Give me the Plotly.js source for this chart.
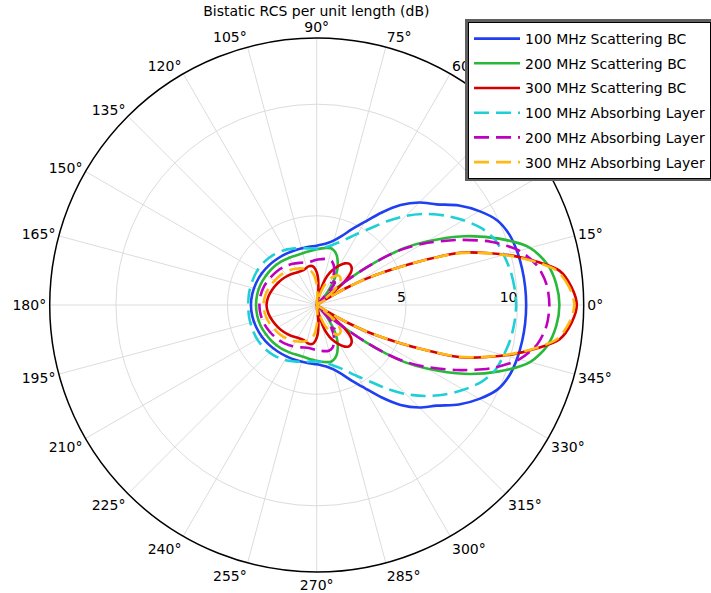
<!DOCTYPE html>
<html>
<head>
<meta charset="utf-8">
<script src="https://cdn.plot.ly/plotly-3.0.1.min.js"></script>
<style>html,body{margin:0;padding:0;background:#fff;}#chart{width:711px;height:593px;}</style>
</head>
<body>
<div id="chart"></div>
<script>
// Half-plane readings (0..180 deg); the pattern is symmetric about 0 deg.
const blueTheta = [0, 5, 10, 15, 20, 25, 30, 35, 40, 45, 50, 55, 60, 65, 70, 75, 80, 85, 90, 100, 110, 120, 130, 140, 150, 160, 170, 180];
const blueR     = [10.39, 10.38, 10.35, 10.3, 10.2, 9.95, 9.42, 8.78, 8.02, 7.5, 6.85, 6.05, 5.3, 4.75, 4.3, 4.0, 3.82, 3.72, 3.66, 3.63, 3.64, 3.67, 3.72, 3.78, 3.84, 3.89, 3.93, 3.95];

const greenTheta = [0, 5, 10, 15, 20, 25, 30, 33, 35, 37, 39, 41, 43, 45, 48, 52, 56, 60, 64, 68, 72, 76, 80, 85, 90, 100, 110, 120, 130, 140, 150, 160, 170, 180];
const greenR     = [11.88, 11.78, 11.5, 10.9, 9.7, 8.3, 6.7, 5.7, 4.8, 3.8, 2.8, 2.0, 1.3, 1.0, 1.5, 1.96, 2.45, 2.85, 3.15, 3.4, 3.55, 3.62, 3.6, 3.55, 3.5, 3.42, 3.4, 3.45, 3.52, 3.58, 3.63, 3.68, 3.71, 3.72];

const redTheta = [0, 4, 8, 11, 14, 17, 20, 23, 26, 28, 30, 32, 34, 37, 40, 44, 48, 52, 56, 60, 64, 68, 72, 76, 80, 84, 88, 92, 96, 102, 110, 120, 130, 140, 150, 160, 170, 180];
const redR     = [12.66, 12.45, 12.0, 11.1, 10.1, 8.98, 7.85, 6.0, 4.4, 3.5, 2.5, 1.5, 1.0, 1.6, 2.6, 3.15, 3.32, 3.35, 3.25, 3.05, 2.82, 2.55, 2.2, 1.6, 1.0, 1.7, 2.3, 2.6, 2.75, 2.77, 2.68, 2.7, 2.8, 2.9, 3.0, 3.1, 3.2, 3.25];

const cyanTheta = [0, 5, 10, 15, 20, 25, 30, 35, 40, 45, 50, 55, 60, 65, 70, 75, 80, 85, 90, 100, 110, 120, 130, 140, 150, 160, 170, 180];
const cyanR     = [9.94, 9.9, 9.82, 9.68, 9.52, 9.15, 8.6, 8.0, 7.35, 6.65, 5.9, 5.2, 4.7, 4.3, 4.0, 3.8, 3.65, 3.57, 3.53, 3.58, 3.7, 3.85, 3.96, 4.04, 4.08, 4.08, 4.08, 4.07];

const magentaTheta = [0, 5, 10, 15, 20, 25, 30, 33, 35, 37, 39, 41, 43, 45, 48, 51, 54, 57, 60, 65, 70, 75, 80, 85, 90, 100, 110, 120, 130, 140, 150, 160, 170, 180];
const magentaR     = [11.43, 11.35, 11.05, 10.4, 9.3, 7.9, 6.5, 5.6, 4.8, 3.8, 2.8, 2.0, 1.3, 1.0, 1.8, 2.3, 2.3, 2.2, 2.5, 2.85, 3.05, 3.12, 3.1, 3.06, 3.03, 2.96, 3.02, 3.14, 3.25, 3.34, 3.42, 3.5, 3.55, 3.57];

const orangeTheta = [0, 4, 8, 11, 14, 17, 20, 23, 26, 28, 30, 32, 34, 37, 40, 44, 48, 52, 56, 60, 64, 68, 72, 76, 80, 84, 88, 92, 96, 102, 110, 120, 130, 140, 150, 160, 170, 180];
const orangeR     = [12.55, 12.35, 11.9, 11.05, 10.05, 8.95, 7.8, 6.0, 4.4, 3.5, 2.5, 1.5, 1.0, 1.4, 2.0, 2.4, 2.6, 2.65, 2.6, 2.45, 2.25, 2.0, 1.6, 1.2, 1.0, 1.2, 1.7, 2.1, 2.4, 2.62, 2.74, 2.88, 3.0, 3.1, 3.18, 3.28, 3.35, 3.39];

const seriesNames = ["100 MHz Scattering BC", "200 MHz Scattering BC", "300 MHz Scattering BC",
                     "100 MHz Absorbing Layer", "200 MHz Absorbing Layer", "300 MHz Absorbing Layer"];
const angleTicks = [0, 15, 30, 45, 60, 75, 90, 105, 120, 135, 150, 165, 180, 195, 210, 225, 240, 255, 270, 285, 300, 315, 330, 345];
const radialTicks = [5, 10];
const radialTickText = ["5\u00a0\u00a0", "10\u00a0\u00a0\u00a0\u00a0"];
const titleText = "Bistatic RCS per unit length (dB)";

function mirror(th, r) {
  const t2 = th.slice(), r2 = r.slice();
  for (let i = th.length - 2; i >= 0; i--) { t2.push(360 - th[i]); r2.push(r[i]); }
  return [t2, r2];
}

const specs = [
  [blueTheta, blueR, '#1f3ff0', 'solid'],
  [greenTheta, greenR, '#2ab83a', 'solid'],
  [redTheta, redR, '#d60000', 'solid'],
  [cyanTheta, cyanR, '#1ecfd6', '15px,7px'],
  [magentaTheta, magentaR, '#bf00bf', '15px,7px'],
  [orangeTheta, orangeR, '#ffb914', '15px,7px']
];

const traces = specs.map((s, i) => {
  const m = mirror(s[0], s[1]);
  return {
    type: 'scatterpolar', mode: 'lines', theta: m[0], r: m[1],
    name: seriesNames[i], legendgroup: 'g' + i,
    line: {color: s[2], width: 2.6, dash: s[3], shape: 'spline', smoothing: 0.8},
    hoverinfo: 'skip'
  };
});

const layout = {
  width: 711, height: 593,
  margin: {l: 0, r: 0, t: 0, b: 0},
  paper_bgcolor: '#fff',
  font: {family: 'DejaVu Sans', color: '#000', size: 14},
  title: {text: titleText, x: 0.445, xanchor: 'center', y: 1 - 11/593, yanchor: 'middle', font: {size: 14, color: '#000'}},
  showlegend: true,
  legend: {
    x: 468/711, xanchor: 'left', y: 1 - 22/593, yanchor: 'top',
    bgcolor: '#fff', bordercolor: '#000', borderwidth: 1,
    font: {size: 14, color: '#000'}, tracegroupgap: 3.5, traceorder: 'grouped',
    itemwidth: 46, entrywidth: 250
  },
  shapes: [{
    type: 'rect', xref: 'paper', yref: 'paper', layer: 'above',
    x0: 465/711, x1: 1.05, y0: 1 - 181/593, y1: 1 - 19/593,
    fillcolor: '#5f5f5f', line: {width: 0}
  }],
  polar: {
    domain: {x: [0.0699, 0.821], y: [0.0354, 0.9359]},
    bgcolor: '#fff',
    radialaxis: {
      range: [1, 12.97], tickmode: 'array', tickvals: radialTicks, ticktext: radialTickText,
      showline: false, ticks: '', gridcolor: '#dcdcdc', gridwidth: 1,
      angle: 0, side: 'counterclockwise', tickangle: 0,
      tickfont: {size: 14, color: '#000'}, layer: 'below traces'
    },
    angularaxis: {
      rotation: 0, direction: 'counterclockwise',
      tickmode: 'array', tickvals: angleTicks, ticktext: angleTicks.map(a => a + '°'),
      showline: true, linecolor: '#000', linewidth: 1.5,
      gridcolor: '#dcdcdc', gridwidth: 1, ticks: '',
      tickfont: {size: 14, color: '#000'}, layer: 'below traces'
    }
  }
};

Plotly.newPlot('chart', traces, layout, {displayModeBar: false, staticPlot: true});
</script>
</body>
</html>
